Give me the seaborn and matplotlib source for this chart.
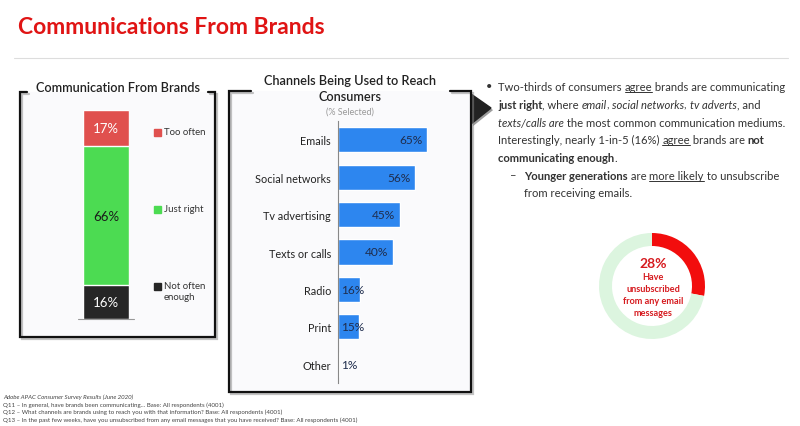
import matplotlib
matplotlib.use("Agg")
import matplotlib.pyplot as plt
import matplotlib.patheffects as pe
from matplotlib.patches import Rectangle, Polygon
import seaborn as sns
import pandas as pd

# survey values
freq_labels = ["Not often\nenough", "Just right", "Too often"]
freq_values = [16, 66, 17]
freq_colors = ["#262626", "#4cdb52", "#e0504e"]

channels = ["Emails", "Social networks", "Tv advertising", "Texts or calls", "Radio", "Print", "Other"]
channel_pct = [65, 56, 45, 40, 16, 15, 1]

unsub_pct = 28

W, H = 800, 427
RED = "#e01414"
TXT = "#333333"

sns.set_theme(style="white")
plt.rcParams["font.family"] = ["Lato", "DejaVu Sans"]

fig = plt.figure(figsize=(W / 100, H / 100), dpi=100)
fig.patch.set_facecolor("white")

# full-figure overlay in pixel units (y down)
ov = fig.add_axes([0, 0, 1, 1])
ov.set_xlim(0, W)
ov.set_ylim(H, 0)
ov.axis("off")


def px_axes(x0, y0, x1, y1):
    ax = fig.add_axes([x0 / W, 1 - y1 / H, (x1 - x0) / W, (y1 - y0) / H])
    ax.set_facecolor("none")
    return ax


def text_w(s, **kw):
    r = fig.canvas.get_renderer()
    t = ov.text(0, 0, "|" + s + "|", **kw)
    t2 = ov.text(0, 0, "||", **kw)
    w = t.get_window_extent(r).width - t2.get_window_extent(r).width
    t.remove()
    t2.remove()
    return w


def draw_runs(x, y, runs, size=8.1, color=TXT):
    for s, st in runs:
        kw = dict(fontsize=size, color=color,
                  fontweight="bold" if "b" in st else "normal",
                  fontstyle="italic" if "i" in st else "normal")
        ov.text(x, y, s, va="baseline", ha="left", **kw)
        w = text_w(s, **kw)
        if "u" in st:
            ov.plot([x, x + w], [y + 2, y + 2], color=color, lw=0.7)
        x += w


shadow = [pe.SimpleLineShadow(offset=(1.5, -1.5), shadow_color="#888888", alpha=0.5), pe.Normal()]

# page title + separator
ov.text(18, 27, "Communications From Brands", color=RED, fontsize=16.5, fontweight="bold", va="center")
ov.plot([14, 788], [59, 59], color="#dddddd", lw=0.8)

# panel frames
ov.add_patch(Rectangle((20, 93), 195, 245, color="#fafafc", zorder=0))
ov.plot([27, 20, 20, 215, 215, 208], [93, 93, 338, 338, 93, 93], color="#111111", lw=1.6,
        path_effects=shadow, solid_joinstyle="miter")
ov.add_patch(Rectangle((229, 92), 242, 301, color="#fafafc", zorder=0))
ov.plot([251, 229, 229, 471, 471, 450], [92, 92, 393, 393, 92, 92], color="#111111", lw=1.6,
        path_effects=shadow, solid_joinstyle="miter")
ov.add_patch(Polygon([(471, 95), (491, 109), (471, 125)], closed=True, color="#222222",
                     path_effects=[pe.SimplePatchShadow(offset=(1.5, -1.5), alpha=0.4), pe.Normal()]))

# left panel: stacked bar
ov.text(118, 88, "Communication From Brands", fontsize=9.2, fontweight="semibold", color="#222222",
        ha="center", va="center")
ax1 = px_axes(83, 111, 129, 320)
cum = pd.Series(freq_values).cumsum()
stack = pd.DataFrame({"grp": ["all"] * 3, "top": cum.values, "col": freq_colors})
for i in reversed(range(len(stack))):
    sns.barplot(data=stack.iloc[[i]], x="grp", y="top", color=stack["col"][i],
                width=1, saturation=1, ax=ax1)
ax1.set_xlim(-0.5, 0.5)
ax1.set_ylim(0, cum.iloc[-1])
ax1.axis("off")
lab_cols = ["white", "#1a1a1a", "white"]
for i, v in enumerate(freq_values):
    mid = cum[i] - v / 2
    ax1.text(0, mid, f"{v}%", ha="center", va="center", fontsize=9.5, color=lab_cols[i])
ov.plot([78, 134], [320, 320], color="#999999", lw=0.8)
leg_y = [287, 210, 133]
for lab, col, y in zip(freq_labels, freq_colors, leg_y):
    ov.add_patch(Rectangle((154, y - 3.5), 7, 7, color=col))
    two = "\n" in lab
    ov.text(164, y - 5 if two else y, lab, fontsize=6.9, color=TXT, va="top" if two else "center",
            linespacing=1.3)

# middle panel: channels
ov.text(350, 81, "Channels Being Used to Reach", fontsize=9.2, fontweight="semibold", color="#222222",
        ha="center", va="center")
ov.text(350, 97, "Consumers", fontsize=9.2, fontweight="semibold", color="#222222", ha="center", va="center")
ov.text(350, 112, "(% Selected)", fontsize=6.5, color="#999999", ha="center", va="center")
ax2 = px_axes(338, 122, 468, 384)
sns.barplot(x=channel_pct, y=channels, orient="h", color="#2d86ef", width=0.67, saturation=1, ax=ax2)
ax2.set_xlim(0, 130 / 1.37)
ax2.set_ylim(6.5, -0.5)
sns.despine(ax=ax2, top=True, right=True, bottom=True, left=False)
ax2.spines["left"].set_color("#888888")
ax2.spines["left"].set_linewidth(0.8)
ax2.set_xticks([])
ax2.set_xlabel("")
ax2.set_ylabel("")
ax2.tick_params(axis="y", length=0, pad=5, labelsize=7.8, labelcolor="#222222")
for i, v in enumerate(channel_pct):
    if v >= 30:
        ax2.text(v - 3, i, f"{v}%", ha="right", va="center", fontsize=8.6, color="#1f2d4d")
    else:
        ax2.text(2.5, i, f"{v}%", ha="left", va="center", fontsize=8.6, color="#1f2d4d")

# right text block
ov.text(489, 87, "•", fontsize=8, color=TXT, va="center", ha="center")
lines = [
    [("Two-thirds of consumers ", ""), ("agree", "u"), (" brands are communicating", "")],
    [("just right", "b"), (", where ", ""), ("email", "i"), (", ", ""), ("social networks", "i"),
     (", ", ""), ("tv adverts", "i"), (", and", "")],
    [("texts/calls are", "i"), (" the most common communication mediums.", "")],
    [("Interestingly, nearly 1-in-5 (16%) ", ""), ("agree", "u"), (" brands are ", ""), ("not", "b")],
    [("communicating enough", "b"), (".", "")],
]
for k, runs in enumerate(lines):
    draw_runs(498, 91 + k * 17.8, runs)
ov.text(513, 176, "–", fontsize=8.1, color=TXT, va="center", ha="center")
draw_runs(524, 180, [("Younger generations", "b"), (" are ", ""), ("more likely", "u"), (" to unsubscribe", "")])
draw_runs(524, 197.5, [("from receiving emails.", "")])

# donut
ax3 = px_axes(599, 234, 705, 340)
ax3.pie([unsub_pct, 100 - unsub_pct], colors=["#f20d0d", "#dcf5df"], startangle=90, counterclock=False,
        wedgeprops=dict(width=13 / 53, linewidth=0))
ax3.set_xlim(-1, 1)
ax3.set_ylim(-1, 1)
ov.text(653, 264, f"{unsub_pct}%", fontsize=10, fontweight="bold", color="#d61a1f", ha="center", va="center")
for y, s in zip([278, 290, 302, 314], ["Have", "unsubscribed", "from any email", "messages"]):
    ov.text(653, y, s, fontsize=6.6, fontweight="bold", color="#d61a1f", ha="center", va="center")

# footnotes
notes = [
    "Adobe APAC Consumer Survey Results (June 2020)",
    "Q11 – In general, have brands been communicating… Base: All respondents (4001)",
    "Q12 – What channels are brands using to reach you with that information? Base: All respondents (4001)",
    "Q13 – In the past few weeks, have you unsubscribed from any email messages that you have received? Base: All respondents (4001)",
]
for k, s in enumerate(notes):
    ov.text(3, 397 + k * 7.8, s, fontsize=4.4, color="#444444", va="center",
            fontstyle="italic" if k == 0 else "normal")

fig.savefig("out.png", dpi=100)
